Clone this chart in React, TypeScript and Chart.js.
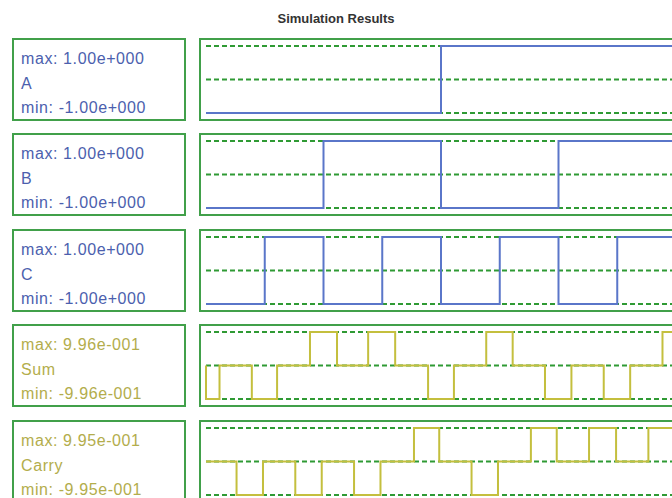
import React, { useEffect, useRef } from 'react';
import Chart from 'chart.js/auto';

// ---------- data ----------
const chartTitle = 'Simulation Results';
const signalNames = ['A', 'B', 'C', 'Sum', 'Carry'];
const maxLabels = ['1.00e+000', '1.00e+000', '1.00e+000', '9.96e-001', '9.95e-001'];
const minLabels = ['-1.00e+000', '-1.00e+000', '-1.00e+000', '-9.96e-001', '-9.95e-001'];
const signalMax = [1, 1, 1, 0.996, 0.995];

const timeStart = 0;
const timeEnd = 8;

// change points: value holds from time[i] until time[i+1]
const timeA = [0, 4, 8];
const valueA = [-1, 1, 1];

const timeB = [0, 2, 4, 6, 8];
const valueB = [-1, 1, -1, 1, 1];

const timeC = [0, 1, 2, 3, 4, 5, 6, 7, 8];
const valueC = [-1, 1, -1, 1, -1, 1, -1, 1, 1];

const timeSum = [0, 0, 0.23, 0.78, 1.21, 1.77, 2.23, 2.76, 3.22, 3.78, 4.22, 4.77, 5.22, 5.77, 6.22, 6.77, 7.22, 7.77, 8];
const valueSum = [0, -0.996, 0, -0.996, 0, 0.996, 0, 0.996, 0, -0.996, 0, 0.996, 0, -0.996, 0, -0.996, 0, 0.996, 0.996];

const timeCarry = [0, 0.52, 0.97, 1.52, 1.97, 2.52, 2.97, 3.54, 3.97, 4.52, 4.97, 5.53, 5.97, 6.52, 6.98, 7.53, 8];
const valueCarry = [0, -0.995, 0, -0.995, 0, -0.995, 0, 0.995, 0, -0.995, 0, 0.995, 0, 0.995, 0, 0.995, 0.995];

const signalTimes = [timeA, timeB, timeC, timeSum, timeCarry];
const signalValues = [valueA, valueB, valueC, valueSum, valueCarry];

// ---------- styles ----------
const BOX_GREEN = '#41a04a';
const DASH_GREEN = '#2f9a34';
const BLUE_LINE = '#5a76c9';
const BLUE_TEXT = '#4c5fae';
const OLIVE_LINE = '#c4bf3e';
const OLIVE_TEXT = '#b3ad4c';
const lineColors = [BLUE_LINE, BLUE_LINE, BLUE_LINE, OLIVE_LINE, OLIVE_LINE];
const textColors = [BLUE_TEXT, BLUE_TEXT, BLUE_TEXT, OLIVE_TEXT, OLIVE_TEXT];
const rowTops = [38, 133, 229, 324, 420];
const FONT = "'Liberation Sans', Arial, Helvetica, sans-serif";

function SignalPlot({ idx }: { idx: number }) {
  const ref = useRef<HTMLCanvasElement>(null);
  useEffect(() => {
    if (!ref.current) return;
    const level = signalMax[idx];
    const pts = signalTimes[idx].map((t, i) => ({ x: t, y: signalValues[idx][i] }));
    const dashed = (y: number) => ({
      data: [
        { x: timeStart, y },
        { x: timeEnd, y },
      ],
      borderColor: DASH_GREEN,
      borderWidth: 2,
      borderDash: [5, 3],
      pointRadius: 0,
      clip: false,
      order: 2,
    });
    const chart = new Chart(ref.current, {
      type: 'line',
      data: {
        datasets: [
          {
            data: pts,
            stepped: 'before',
            borderColor: lineColors[idx],
            borderWidth: 2,
            pointRadius: 0,
            clip: false,
            order: 1,
          } as any,
          dashed(level),
          dashed(0),
          dashed(-level),
        ],
      },
      options: {
        animation: false,
        responsive: false,
        maintainAspectRatio: false,
        events: [],
        layout: { padding: { left: 5, right: 5, top: 6, bottom: 6 } },
        plugins: {
          legend: { display: false },
          tooltip: { enabled: false },
          title: { display: false },
        },
        scales: {
          x: { type: 'linear', min: timeStart, max: timeEnd, display: false },
          y: { type: 'linear', min: -level, max: level, display: false },
        },
      },
    });
    return () => chart.destroy();
  }, [idx]);
  return <canvas ref={ref} width={480} height={79} style={{ display: 'block' }} />;
}

function Row({ idx }: { idx: number }) {
  const top = rowTops[idx];
  const lineStyle: React.CSSProperties = {
    height: 24.5,
    lineHeight: '24.5px',
    whiteSpace: 'nowrap',
  };
  return (
    <>
      <div
        style={{
          position: 'absolute',
          left: 12,
          top,
          width: 163,
          height: 72,
          border: `2px solid ${BOX_GREEN}`,
          paddingTop: 7,
          paddingLeft: 7,
          boxSizing: 'content-box',
          color: textColors[idx],
          fontFamily: FONT,
          fontSize: 16,
          letterSpacing: 0.6,
        }}
      >
        <div style={lineStyle}>{`max: ${maxLabels[idx]}`}</div>
        <div style={lineStyle}>{signalNames[idx]}</div>
        <div style={lineStyle}>{`min: ${minLabels[idx]}`}</div>
      </div>
      <div
        style={{
          position: 'absolute',
          left: 199,
          top,
          width: 480,
          height: 79,
          border: `2px solid ${BOX_GREEN}`,
        }}
      >
        <SignalPlot idx={idx} />
      </div>
    </>
  );
}

export default function App() {
  return (
    <div
      style={{
        position: 'fixed',
        left: 0,
        top: 0,
        width: 672,
        height: 498,
        overflow: 'hidden',
        background: '#ffffff',
      }}
    >
      <div
        style={{
          position: 'absolute',
          left: 0,
          top: 10,
          width: 672,
          textAlign: 'center',
          fontFamily: FONT,
          fontWeight: 'bold',
          fontSize: 13,
          lineHeight: '18px',
          color: '#333333',
        }}
      >
        {chartTitle}
      </div>
      {signalNames.map((_, i) => (
        <Row key={i} idx={i} />
      ))}
    </div>
  );
}
